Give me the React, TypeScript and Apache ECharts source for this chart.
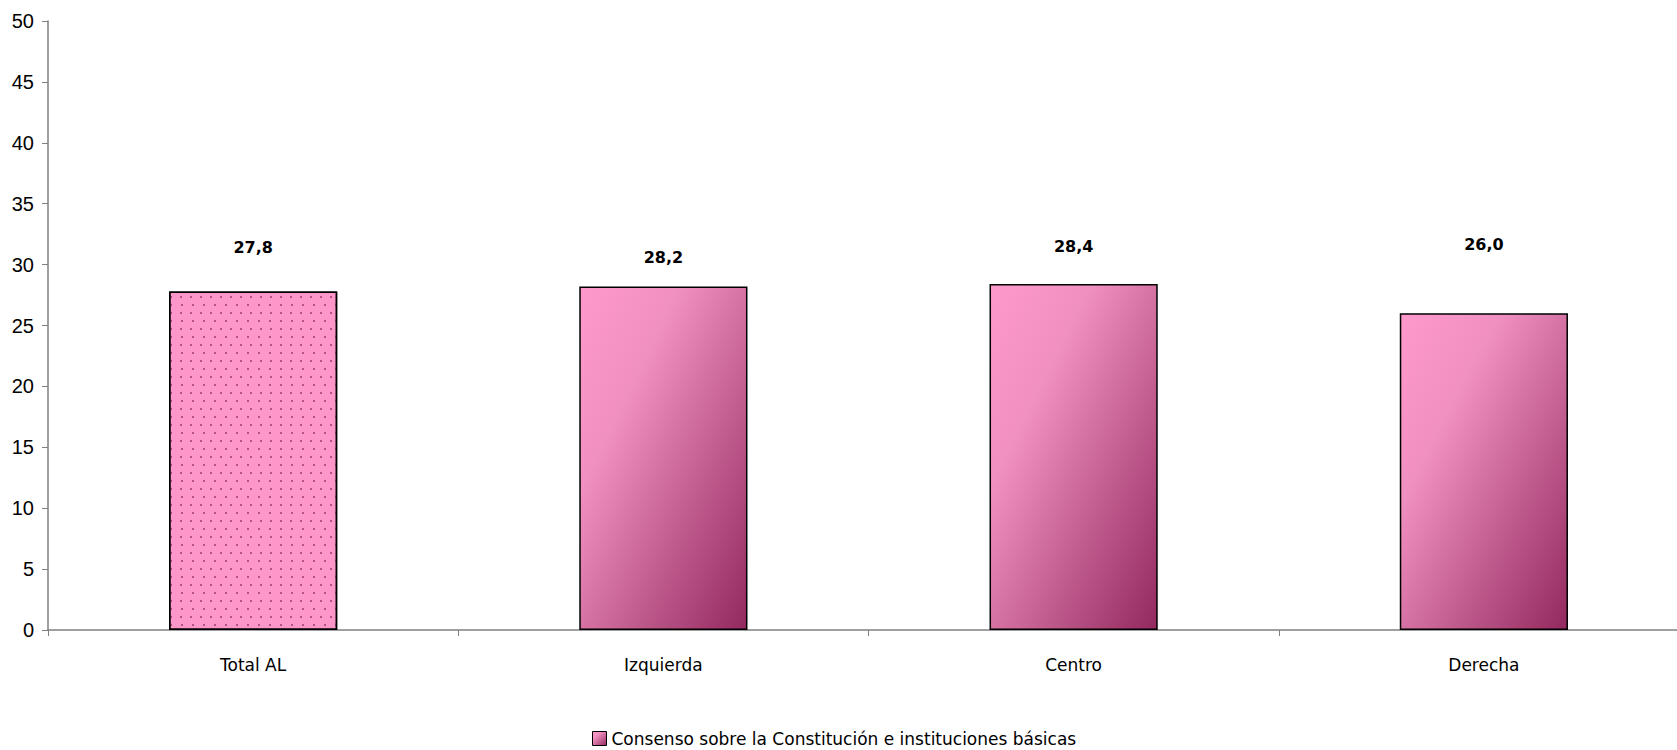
import React, { useEffect, useRef } from "react";
import * as echarts from "echarts";

const categories = ["Total AL", "Izquierda", "Centro", "Derecha"];
const values = [27.8, 28.2, 28.4, 26.0];
const labelDistances = [36, 21, 30, 61];
const seriesName = "Consenso sobre la Constitución e instituciones básicas";
const yTicks = { min: 0, max: 50, interval: 5 };

export default function App() {
  const ref = useRef<HTMLDivElement>(null);
  useEffect(() => {
    document.body.style.margin = "0";
    document.body.style.overflow = "hidden";
    const chart = echarts.init(ref.current!, null, { renderer: "svg" });
    const gradient = new echarts.graphic.LinearGradient(0, 0, 1, 1, [
      { offset: 0, color: "#FF99CC" },
      { offset: 0.3, color: "#F090C0" },
      { offset: 1, color: "#93295F" },
    ]);
    const data = values.map((v, i) => ({
      value: v,
      label: { distance: labelDistances[i] },
      itemStyle:
        i === 0
          ? {
              color: "#FF96C9",
              decal: {
                symbol: "rect",
                symbolSize: 1,
                color: "rgba(110,30,70,0.55)",
                dashArrayX: [
                  [1.2, 8],
                  [0, 4.6, 1.2, 3.4],
                ],
                dashArrayY: [1.2, 5.3],
                rotation: 0,
              },
            }
          : { color: gradient },
    }));
    chart.setOption({
      animation: false,
      backgroundColor: "#ffffff",
      grid: { left: 48, right: 0, top: 21, bottom: 120, containLabel: false },
      legend: {
        bottom: -2,
        left: 587,
        icon: "rect",
        itemWidth: 14,
        itemHeight: 14,
        itemGap: 8,
        textStyle: { fontFamily: "DejaVu Sans", fontSize: 17, color: "#000" },
        data: [
          {
            name: seriesName,
            itemStyle: { color: gradient, borderColor: "#000", borderWidth: 1 },
          },
        ],
      },
      xAxis: {
        type: "category",
        data: categories,
        axisLine: { lineStyle: { color: "#808080", width: 1.5 } },
        axisTick: { show: true, length: 6, lineStyle: { color: "#808080" } },
        axisLabel: {
          fontFamily: "DejaVu Sans",
          fontSize: 17,
          color: "#000",
          margin: 26,
        },
      },
      yAxis: {
        type: "value",
        min: yTicks.min,
        max: yTicks.max,
        interval: yTicks.interval,
        splitLine: { show: false },
        axisLine: { show: true, lineStyle: { color: "#808080", width: 1.5 } },
        axisTick: { show: true, length: 6, lineStyle: { color: "#808080" } },
        axisLabel: {
          fontFamily: "Liberation Sans",
          fontSize: 20,
          color: "#000",
          margin: 14,
        },
      },
      series: [
        {
          name: seriesName,
          type: "bar",
          barWidth: "41%",
          data,
          itemStyle: { borderColor: "#000", borderWidth: 1.5 },
          label: {
            show: true,
            position: "top",
            formatter: (p: any) => p.value.toFixed(1).replace(".", ","),
            fontFamily: "DejaVu Sans",
            fontWeight: "bold",
            fontSize: 16,
            color: "#000",
          },
        },
      ],
    });
    return () => chart.dispose();
  }, []);
  return (
    <div style={{ width: 1677, height: 750, overflow: "hidden" }}>
      <div ref={ref} style={{ width: 1689, height: 750 }} />
    </div>
  );
}
